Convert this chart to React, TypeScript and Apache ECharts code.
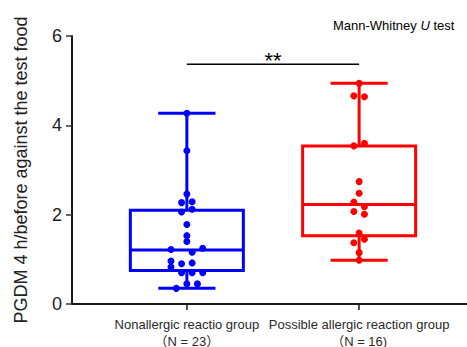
import React, { useEffect, useRef } from "react";
import * as echarts from "echarts";

const groups = ["Nonallergic reactio group", "Possible allergic reaction group"];
const groupN = ["（N = 23）", "（N = 16)"];

// individual points (value, beeswarm slot)
const nonallergicValues = [4.27, 3.43, 2.46, 2.27, 2.29, 2.06, 2.12, 1.78, 1.53, 1.40, 1.22, 1.16, 1.25, 0.96, 0.90, 0.92, 0.83, 0.70, 0.70, 0.70, 0.45, 0.45, 0.35];
const nonallergicSlots = [0, 0, 0, -1, 1, -1, 1, 0, 0, 0, -3, 1, 3, -3, -1, 1, -3, -1, 1, 3, 0, 2, -2];
const allergicValues = [4.94, 4.66, 4.64, 3.54, 3.60, 2.74, 2.48, 2.28, 2.18, 2.07, 2.01, 1.59, 1.45, 1.37, 1.15, 0.98];
const allergicSlots = [0, -1, 1, -1, 1, 0, 0, -1, 1, -1, 1, 0, 1, -1, 0, 0];

// box stats: min, q1, median, q3, max
const nonallergicBox = [0.35, 0.75, 1.21, 2.10, 4.27];
const allergicBox = [0.98, 1.53, 2.23, 3.54, 4.94];

const yTicks = [0, 2, 4, 6];
const sigLevel = 5.37;
const sigLabel = "**";

const BLUE = "#0000ff";
const RED = "#ff0000";
const FONT = "'Liberation Sans', Arial, 'Noto Sans CJK SC', sans-serif";

export default function App() {
  const ref = useRef<HTMLDivElement>(null);
  useEffect(() => {
    if (!ref.current) return;
    const chart = echarts.init(ref.current, null, { renderer: "svg" });
    const slotW = 0.0307;
    const boxHalf = 0.328;
    const capHalf = 0.166;
    const colors = [BLUE, RED];
    const boxData = [
      [1, ...nonallergicBox],
      [2, ...allergicBox],
    ];
    const pts1 = nonallergicValues.map((v, i) => [1 + nonallergicSlots[i] * slotW, v]);
    const pts2 = allergicValues.map((v, i) => [2 + allergicSlots[i] * slotW, v]);

    chart.setOption({
      animation: false,
      backgroundColor: "#fff",
      title: {
        text: "Mann-Whitney {i|U} test",
        left: 333,
        top: 19,
        padding: 0,
        textStyle: {
          fontFamily: FONT,
          fontSize: 13,
          fontWeight: "normal",
          color: "#000",
          rich: {
            i: { fontStyle: "italic", fontFamily: FONT, fontSize: 13, color: "#000" },
          },
        },
      },
      grid: { left: 72, top: 36, width: 395, height: 268, containLabel: false, outerBoundsMode: "none" },
      xAxis: {
        type: "value",
        min: 1 - 115 / 172.5,
        max: 2 + 108 / 172.5,
        splitLine: { show: false },
        axisLine: { show: true, onZero: false, lineStyle: { color: "#1a1a1a", width: 2 } },
        axisTick: {
          show: true,
          customValues: [1, 2],
          length: 6,
          lineStyle: { color: "#1a1a1a", width: 1.5 },
        },
        axisLabel: {
          customValues: [1, 2],
          margin: 12,
          fontFamily: FONT,
          fontSize: 13,
          lineHeight: 17,
          color: "#2a2a2a",
          formatter: (v: number) => {
            const i = Math.round(v) - 1;
            return groups[i] + "\n" + groupN[i];
          },
        },
      },
      yAxis: {
        type: "value",
        min: 0,
        max: 6,
        interval: 2,
        name: "PGDM 4 h/before against the test food",
        nameLocation: "middle",
        nameRotate: 90,
        nameGap: 42,
        nameTextStyle: { fontFamily: FONT, fontSize: 18, color: "#222" },
        splitLine: { show: false },
        axisLine: { show: true, lineStyle: { color: "#1a1a1a", width: 2 } },
        axisTick: { show: true, length: 6, lineStyle: { color: "#333", width: 1.5 } },
        axisLabel: {
          margin: 10,
          fontFamily: FONT,
          fontSize: 18,
          color: "#222",
          formatter: (v: number) => (yTicks.includes(v) ? String(v) : ""),
        },
      },
      series: [
        {
          type: "custom",
          data: boxData,
          z: 2,
          renderItem: (params: any, api: any) => {
            const x = api.value(0);
            const mn = api.value(1), q1 = api.value(2), md = api.value(3), q3 = api.value(4), mx = api.value(5);
            const c = colors[params.dataIndex];
            const st = { stroke: c, lineWidth: 3, fill: "none" };
            const tl = api.coord([x - boxHalf, q3]);
            const br = api.coord([x + boxHalf, q1]);
            const mL = api.coord([x - boxHalf, md]);
            const mR = api.coord([x + boxHalf, md]);
            const top = api.coord([x, mx]);
            const bot = api.coord([x, mn]);
            const q3c = api.coord([x, q3]);
            const q1c = api.coord([x, q1]);
            const capTL = api.coord([x - capHalf, mx]);
            const capTR = api.coord([x + capHalf, mx]);
            const capBL = api.coord([x - capHalf, mn]);
            const capBR = api.coord([x + capHalf, mn]);
            return {
              type: "group",
              children: [
                { type: "rect", shape: { x: tl[0], y: tl[1], width: br[0] - tl[0], height: br[1] - tl[1] }, style: st },
                { type: "line", shape: { x1: mL[0], y1: mL[1], x2: mR[0], y2: mR[1] }, style: st },
                { type: "line", shape: { x1: top[0], y1: top[1], x2: q3c[0], y2: q3c[1] }, style: st },
                { type: "line", shape: { x1: bot[0], y1: bot[1], x2: q1c[0], y2: q1c[1] }, style: st },
                { type: "line", shape: { x1: capTL[0], y1: capTL[1], x2: capTR[0], y2: capTR[1] }, style: st },
                { type: "line", shape: { x1: capBL[0], y1: capBL[1], x2: capBR[0], y2: capBR[1] }, style: st },
              ],
            };
          },
        },
        {
          type: "scatter",
          data: pts1,
          symbol: "circle",
          symbolSize: 7,
          itemStyle: { color: BLUE, opacity: 1 },
          z: 3,
        },
        {
          type: "scatter",
          data: pts2,
          symbol: "circle",
          symbolSize: 7,
          itemStyle: { color: RED, opacity: 1 },
          z: 3,
        },
        {
          type: "custom",
          data: [[1, 2, sigLevel]],
          z: 4,
          renderItem: (params: any, api: any) => {
            const a = api.coord([api.value(0), api.value(2)]);
            const b = api.coord([api.value(1), api.value(2)]);
            return {
              type: "group",
              children: [
                { type: "line", shape: { x1: a[0], y1: a[1], x2: b[0], y2: b[1] }, style: { stroke: "#000", lineWidth: 1.5 } },
                {
                  type: "text",
                  x: (a[0] + b[0]) / 2,
                  y: a[1] + 7,
                  style: {
                    text: sigLabel,
                    fontFamily: FONT,
                    fontSize: 22,
                    fill: "#000",
                    align: "center",
                    verticalAlign: "bottom",
                  },
                },
              ],
            };
          },
        },
      ],
    });
    return () => chart.dispose();
  }, []);
  return (
    <div
      ref={ref}
      style={{ position: "fixed", left: 0, top: 0, width: 467, height: 347, background: "#fff" }}
    />
  );
}
